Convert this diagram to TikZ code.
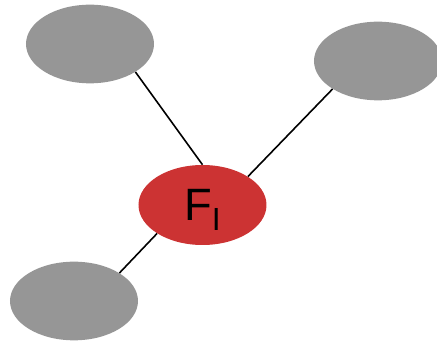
\documentclass[tikz,border=0pt]{standalone}
\usepackage{fontspec}
\setmainfont{Liberation Sans}
\usepackage{tikz}
\usetikzlibrary{shapes.geometric}

\definecolor{nodegrey}{RGB}{150,150,150}
\definecolor{nodered}{RGB}{204,51,51}

\begin{document}
\begin{tikzpicture}[x=0.75pt,y=-0.75pt,
  outer/.style={ellipse,fill=nodegrey,minimum width=96pt,minimum height=59pt,inner sep=0pt},
  centre/.style={ellipse,fill=nodered,minimum width=96pt,minimum height=60pt,inner sep=0pt,font=\fontsize{34}{34}\selectfont},
  link/.style={line width=1.2pt,black}]
\useasboundingbox (0,0) rectangle (437,342);
\node[outer] (g1) at (90,44) {};
\node[outer] (g2) at (378,61) {};
\node[outer] (g3) at (74,301) {};
\node[centre] (fl) at (202.5,205) {F\raisebox{-7.5pt}[0pt][0pt]{\fontsize{24}{24}\selectfont I}};
\draw[link] (g1.south east)--(fl.north);
\draw[link] (fl.north east)--(g2.south west);
\draw[link] (fl.south west)--(g3.north east);
\end{tikzpicture}
\end{document}
